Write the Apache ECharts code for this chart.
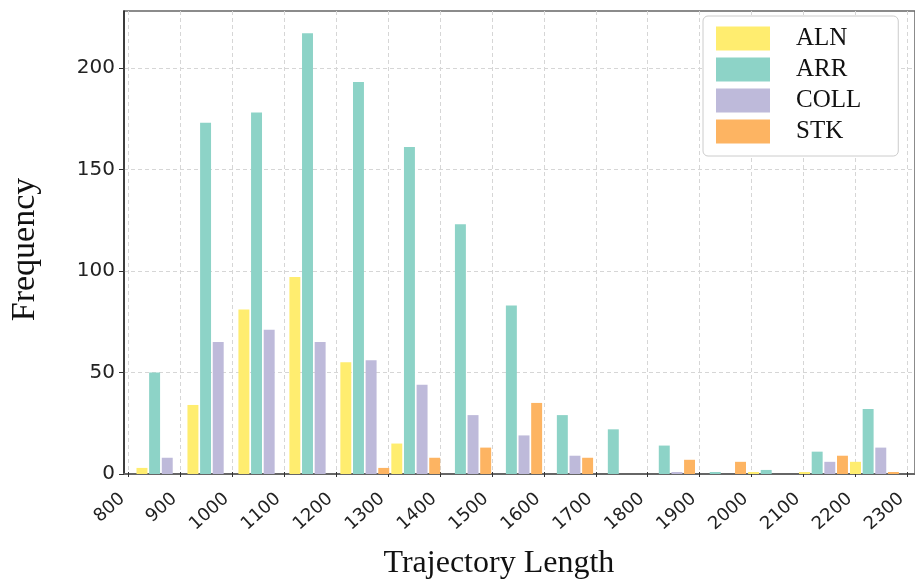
<!DOCTYPE html>
<html>
<head>
<meta charset="utf-8">
<title>Trajectory Length histogram</title>
<script src="https://cdn.jsdelivr.net/npm/echarts@6/dist/echarts.min.js"></script>
<style>
    html, body { margin: 0; padding: 0; background: #fff; }
    #chart { width: 915px; height: 585px; }
</style>
</head>
<body>
<div id="chart"></div>
<script>
// bin left edges (bin width 100)
var binStarts = [800, 900, 1000, 1100, 1200, 1300, 1400, 1500, 1600, 1700, 1800, 1900, 2000, 2100, 2200];
var alnCounts = [3, 34, 81, 97, 55, 15, 0, 0, 0, 0, 0, 0, 1, 1, 6];
var arrCounts = [50, 173, 178, 217, 193, 161, 123, 83, 29, 22, 14, 1, 2, 11, 32];
var collCounts = [8, 65, 71, 65, 56, 44, 29, 19, 9, 0, 1, 0, 0, 6, 13];
var stkCounts = [0, 0, 0, 0, 3, 8, 13, 35, 8, 0, 7, 6, 0, 9, 1];
var seriesNames = ['ALN', 'ARR', 'COLL', 'STK'];
var yTicks = [0, 50, 100, 150, 200];

var seriesCounts = [alnCounts, arrCounts, collCounts, stkCounts];
var seriesColors = ['#ffed6f', '#8dd3c7', '#bebada', '#fdb462'];

// position of each bar inside its bin, in axis units
var BAR_START = 2.5, BAR_STEP = 24.8, BAR_WIDTH = 21.5;

var dash = { color: '#d6d6d6', width: 1, type: [4, 3] };

function makeRender(k) {
    return function (params, api) {
        if (!api.value(1)) {
            return null; // empty bin, nothing drawn
        }
        var left = api.value(0) + BAR_START + k * BAR_STEP;
        var topLeft = api.coord([left, api.value(1)]);
        var bottomRight = api.coord([left + BAR_WIDTH, 0]);
        return {
            type: 'rect',
            shape: {
                x: topLeft[0],
                y: topLeft[1],
                width: bottomRight[0] - topLeft[0],
                height: bottomRight[1] - topLeft[1]
            },
            style: api.style()
        };
    };
}

var series = [];
for (var k = 0; k < seriesNames.length; k++) {
    var data = [];
    for (var i = 0; i < binStarts.length; i++) {
        data.push([binStarts[i], seriesCounts[k][i]]);
    }
    series.push({
        type: 'custom',
        name: seriesNames[k],
        xAxisIndex: 0,
        yAxisIndex: 0,
        itemStyle: { color: seriesColors[k] },
        encode: { x: 0, y: 1 },
        renderItem: makeRender(k),
        data: data
    });
}

var option = {
    animation: false,
    backgroundColor: '#fff',
    grid: [
        // plot frame
        { left: 117, top: 11, width: 806, height: 463, show: true, borderColor: '#666', borderWidth: 1.5, backgroundColor: 'transparent' },
        // tick / label layer, 800 .. 2300
        { left: 128.4, top: 11, width: 779, height: 463 }
    ],
    xAxis: [
        {
            gridIndex: 0, type: 'value', min: 778, max: 2330,
            axisLine: { show: true, lineStyle: { color: '#666', width: 2 } },
            axisTick: { show: false }, axisLabel: { show: false }, splitLine: { show: false }
        },
        {
            gridIndex: 1, type: 'value', min: 800, max: 2300, interval: 100,
            axisLine: { show: false },
            axisTick: { show: true, length: 5, lineStyle: { color: '#333' } },
            axisLabel: {
                rotate: 42, margin: 19, fontSize: 18, color: '#222',
                fontFamily: 'DejaVu Sans', padding: [0, 8, 0, 0],
                formatter: function (v) { return String(v); }
            },
            splitLine: { show: true, lineStyle: dash },
            name: 'Trajectory Length', nameLocation: 'middle', nameGap: 76,
            nameTextStyle: { fontFamily: 'Liberation Serif', fontSize: 32, color: '#111', padding: [0, 38, 0, 0] }
        }
    ],
    yAxis: [
        {
            gridIndex: 0, type: 'value', min: 0, max: 228, interval: 50,
            axisLine: { show: true, lineStyle: { color: '#222', width: 1.5 } },
            axisTick: { show: true, length: 5, lineStyle: { color: '#333' }, customValues: yTicks },
            axisLabel: { fontSize: 20, color: '#222', fontFamily: 'DejaVu Sans', margin: 9, customValues: yTicks },
            splitLine: { show: true, lineStyle: dash },
            name: 'Frequency', nameLocation: 'middle', nameGap: 82, nameRotate: 90,
            nameTextStyle: { fontFamily: 'Liberation Serif', fontSize: 34, color: '#111', padding: [0, 14, 0, 0] }
        },
        { gridIndex: 1, type: 'value', min: 0, max: 228, show: false }
    ],
    legend: {
        orient: 'vertical', left: 703, top: 16,
        icon: 'rect', itemWidth: 54, itemHeight: 24, itemGap: 6,
        padding: [10, 37, 12, 13],
        backgroundColor: '#fff', borderColor: '#cccccc', borderWidth: 1, borderRadius: 5,
        textStyle: { fontFamily: 'Liberation Serif', fontSize: 25, color: '#111', lineHeight: 24, padding: [0, 0, 0, 21] },
        data: seriesNames
    },
    series: series
};

var myChart = echarts.init(document.getElementById('chart'), null, { renderer: 'canvas' });
myChart.setOption(option);
</script>
</body>
</html>
